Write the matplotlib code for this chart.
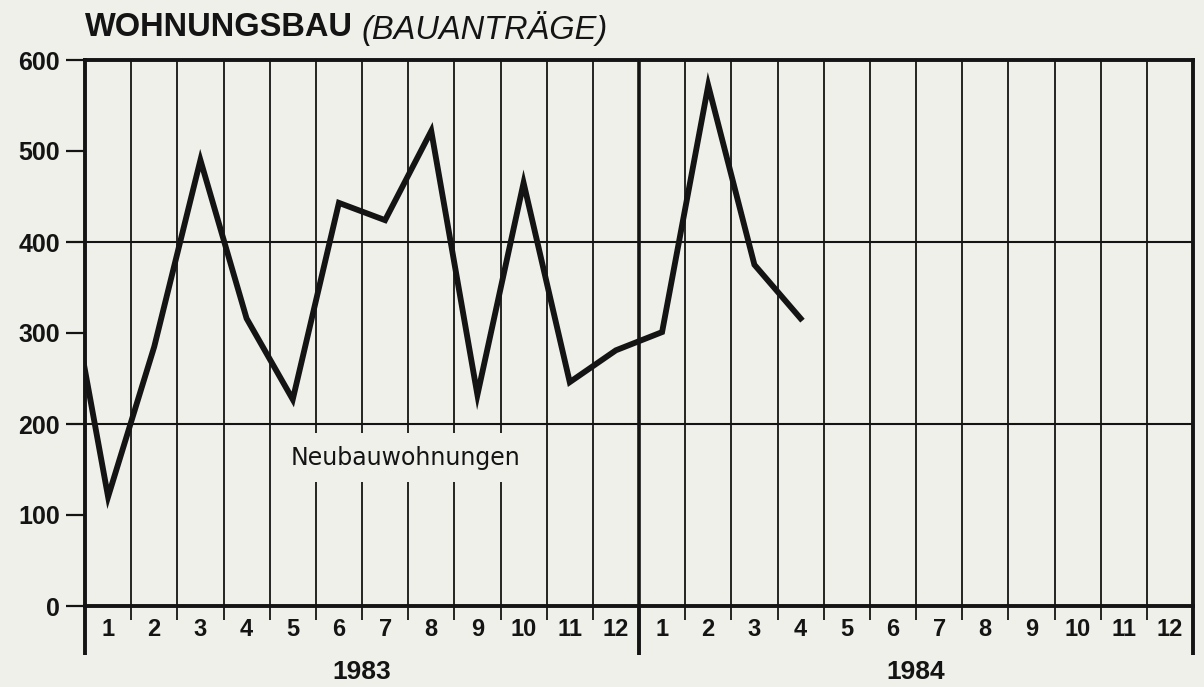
import matplotlib.pyplot as plt

plt.rcParams['font.family'] = ['Liberation Sans', 'DejaVu Sans']

# Baugenehmigungen / Bauanträge, Neubauwohnungen (Tausend), monatlich
dez_1982 = 398          # Vormonat, nur als Anschluss am linken Rand sichtbar
werte_1983 = [120, 285, 490, 316, 227, 443, 424, 522, 232, 465, 246, 281]
werte_1984 = [301, 572, 375, 316]
jahre = ['1983', '1984']
monate = [str(m) for m in range(1, 13)]
y_ticks = [0, 100, 200, 300, 400, 500, 600]
y_gitter = [200, 400]

bg = '#eef0e9'
ink = '#141414'

fig = plt.figure(figsize=(12.04, 6.87), dpi=100, facecolor=bg)
ax = fig.add_axes([85 / 1204, 81 / 687, 1108 / 1204, 546 / 687])
ax.set_facecolor(bg)
n_monate = 12 * len(jahre)
ax.set_xlim(0, n_monate)
ax.set_ylim(0, 600)

# vertical month grid + small tick marks below the axis
for m in range(1, n_monate):
    lw = 2.6 if m % 12 == 0 else 1.3
    ax.axvline(m, color=ink, lw=lw, zorder=1)
ax.vlines([m for m in range(1, n_monate) if m % 12], -15, 0, colors=ink,
          lw=1.3, clip_on=False)
# year boundaries reach further down
ax.vlines([0, 12, 24], -54, 0, colors=ink, lw=2.8, clip_on=False)

# horizontal grid
for y in y_gitter:
    ax.axhline(y, color=ink, lw=1.5, zorder=1)

# data line
xs = [-0.5] + [i + 0.5 for i in range(len(werte_1983) + len(werte_1984))]
ys = [dez_1982] + werte_1983 + werte_1984
ax.plot(xs, ys, color=ink, lw=4.2, solid_joinstyle='miter', zorder=3)

# y axis
ax.set_yticks(y_ticks)
ax.set_yticklabels([str(v) for v in y_ticks], fontsize=18, fontweight='bold', color=ink)
ax.tick_params(axis='y', length=14, width=1.6, direction='out', pad=4, color=ink)
ax.set_xticks([])

for s in ax.spines.values():
    s.set_linewidth(2.8)
    s.set_color(ink)

# month and year labels
for j, jahr in enumerate(jahre):
    for i, lab in enumerate(monate):
        ax.text(12 * j + i + 0.5, -26, lab, ha='center', va='center',
                fontsize=17, fontweight='bold', color=ink, clip_on=False)
    ax.text(12 * j + 6, -72, jahr, ha='center', va='center',
            fontsize=19, fontweight='bold', color=ink, clip_on=False)

# series label
ax.text(6.95, 163, 'Neubauwohnungen', ha='center', va='center', fontsize=17,
        family='DejaVu Sans', color=ink, zorder=4,
        bbox=dict(facecolor=bg, edgecolor='none', pad=9))

# title
t1 = fig.text(85 / 1204, 1 - 28 / 687, 'WOHNUNGSBAU', ha='left', va='center',
              fontsize=23.5, fontweight='bold', color=ink)
fig.canvas.draw()
bb = t1.get_window_extent()
fig.text(bb.x1 / fig.bbox.width + 8 / 1204, 1 - 28 / 687, '(BAUANTRÄGE)',
         ha='left', va='center', fontsize=23.5, style='italic', color=ink)

plt.savefig('out.png', dpi=100, facecolor=bg)
